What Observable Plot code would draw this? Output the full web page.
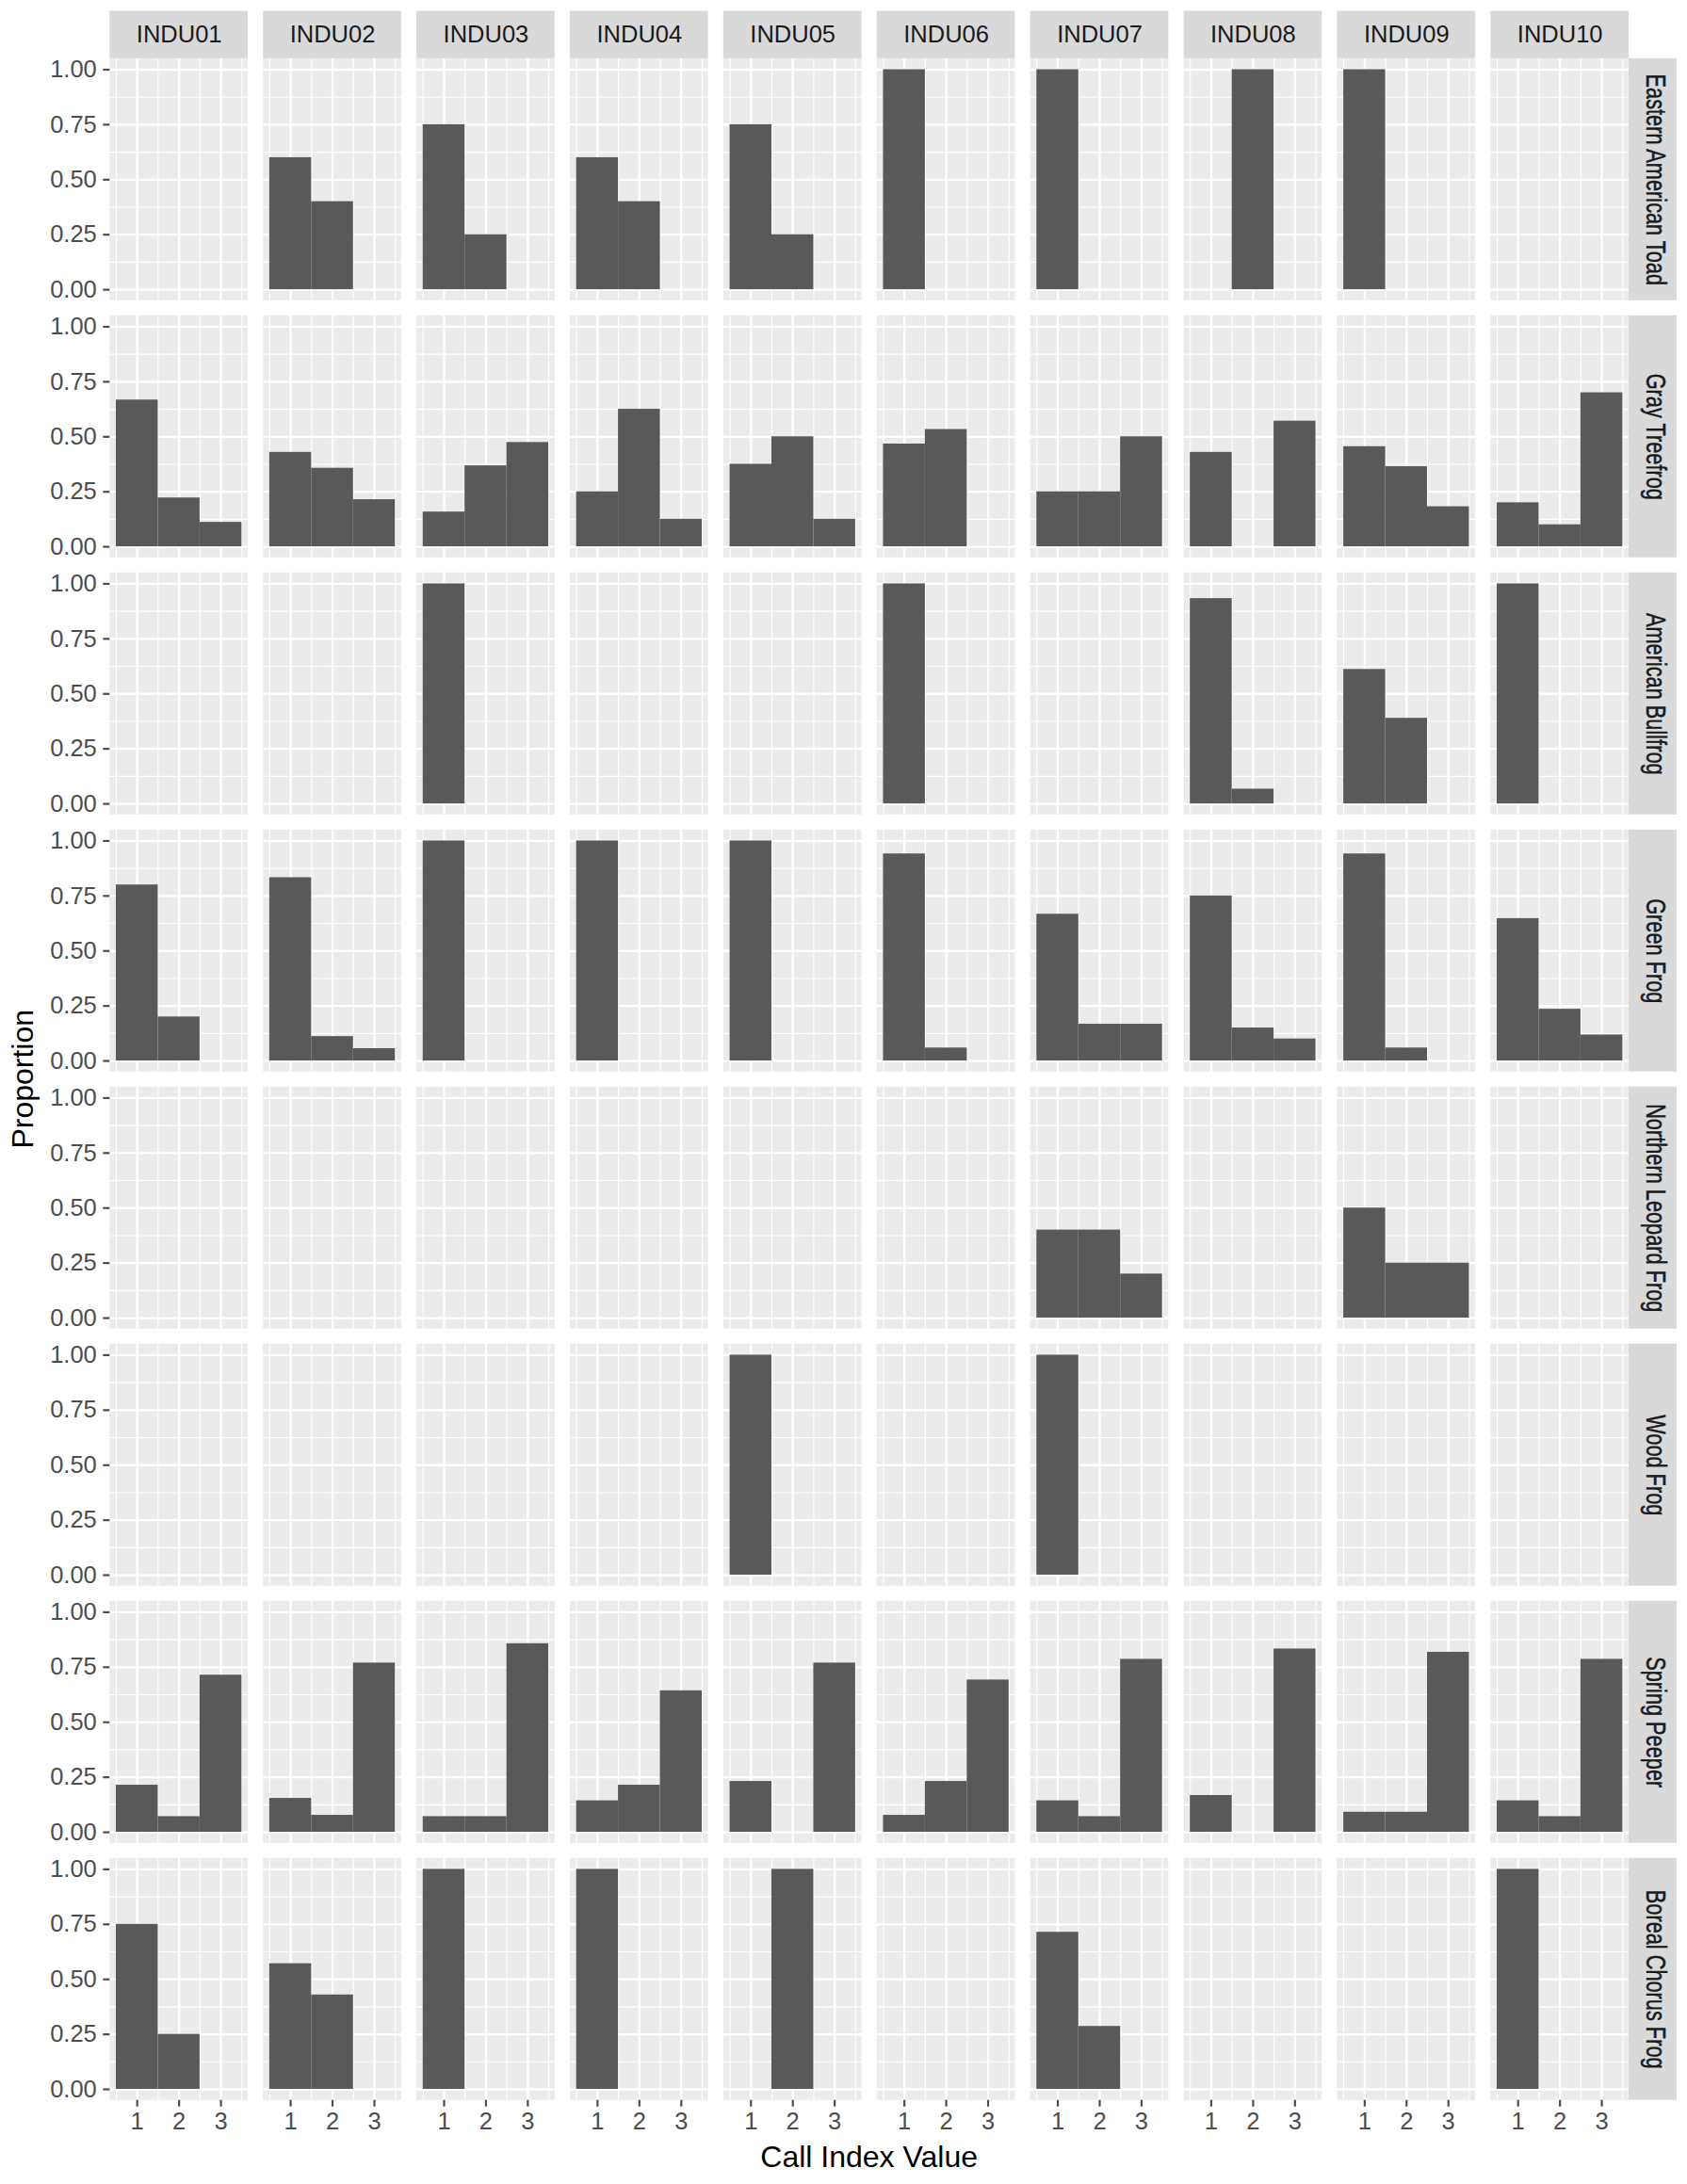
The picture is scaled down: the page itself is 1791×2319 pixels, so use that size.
<!DOCTYPE html>
<html>
<head>
<meta charset="utf-8">
<script src="https://cdn.jsdelivr.net/npm/d3@7"></script>
<script src="https://cdn.jsdelivr.net/npm/@observablehq/plot@0.6"></script>
<style>
  html, body { margin: 0; padding: 0; background: #ffffff; }
  #chart { width: 1791px; height: 2319px; }
</style>
</head>
<body>
<div id="chart"></div>
<script>
// ---- data ----
const sites = ["INDU01","INDU02","INDU03","INDU04","INDU05","INDU06","INDU07","INDU08","INDU09","INDU10"];
const species = ["Eastern American Toad","Gray Treefrog","American Bullfrog","Green Frog",
                 "Northern Leopard Frog","Wood Frog","Spring Peeper","Boreal Chorus Frog"];
const callValues = [1, 2, 3];
const yTicks = [0, 0.25, 0.5, 0.75, 1];
const xTickLabels = ["1", "2", "3"];
const xAxisTitle = "Call Index Value";
const yAxisTitle = "Proportion";

// proportions of call index values 1, 2, 3 per site (null = no records)
const easternAmericanToad = [null, [0.6,0.4,0], [0.75,0.25,0], [0.6,0.4,0], [0.75,0.25,0],
  [1,0,0], [1,0,0], [0,1,0], [1,0,0], null];
const grayTreefrog = [[0.667,0.222,0.111], [0.429,0.357,0.214], [0.158,0.368,0.474], [0.25,0.625,0.125],
  [0.375,0.5,0.125], [0.467,0.533,0], [0.25,0.25,0.5], [0.429,0,0.571], [0.455,0.364,0.182], [0.2,0.1,0.7]];
const americanBullfrog = [null, null, [1,0,0], null, null, [1,0,0], null, [0.933,0.067,0], [0.611,0.389,0], [1,0,0]];
const greenFrog = [[0.8,0.2,0], [0.833,0.111,0.056], [1,0,0], [1,0,0], [1,0,0], [0.941,0.059,0],
  [0.667,0.167,0.167], [0.75,0.15,0.1], [0.941,0.059,0], [0.647,0.235,0.118]];
const northernLeopardFrog = [null, null, null, null, null, null, [0.4,0.4,0.2], null, [0.5,0.25,0.25], null];
const woodFrog = [null, null, null, null, [1,0,0], null, [1,0,0], null, null, null];
const springPeeper = [[0.214,0.071,0.714], [0.154,0.077,0.769], [0.071,0.071,0.857], [0.143,0.214,0.643],
  [0.231,0,0.769], [0.077,0.231,0.692], [0.143,0.071,0.786], [0.167,0,0.833], [0.091,0.091,0.818], [0.143,0.071,0.786]];
const borealChorusFrog = [[0.75,0.25,0], [0.571,0.429,0], [1,0,0], [1,0,0], [0,1,0], null,
  [0.714,0.286,0], null, null, [1,0,0]];

const speciesValues = [easternAmericanToad, grayTreefrog, americanBullfrog, greenFrog,
  northernLeopardFrog, woodFrog, springPeeper, borealChorusFrog];

// ---- tables built from the arrays ----
const bars = [];
species.forEach((sp, i) => {
  speciesValues[i].forEach((triple, j) => {
    if (!triple) return;
    triple.forEach((p, k) => {
      if (p > 0) bars.push({species: sp, site: sites[j], call: callValues[k], p});
    });
  });
});
const cells = [];
species.forEach(sp => sites.forEach(s => cells.push({species: sp, site: s})));

// ---- layout ----
const W = 1791, H = 2319;
const mL = 116.3, mR = 62, mT = 61.8, mB = 89.3;
const stripH = 50.3, stripW = 51;
const xDomain = [0.35, 3.65];
const yDomain = [-0.05, 1.05];
const panelBg = "#EBEBEB", stripBg = "#D9D9D9", barFill = "#595959";
const fs = 25.5;

const chart = Plot.plot({
  width: W, height: H,
  marginLeft: mL, marginRight: mR, marginTop: mT, marginBottom: mB,
  style: {background: "#FFFFFF", fontFamily: "'Liberation Sans', Arial, sans-serif", fontSize: fs + "px", color: "#4D4D4D"},
  fx: {domain: sites, paddingInner: 0.0995, paddingOuter: 0, round: false, axis: null},
  fy: {domain: species, paddingInner: 0.0586, paddingOuter: 0, round: false, axis: null},
  x: {domain: xDomain, label: null},
  y: {domain: yDomain, label: null},
  marks: [
    // panel backgrounds
    Plot.rect(cells, {fx: "site", fy: "species", x1: () => xDomain[0], x2: () => xDomain[1],
      y1: () => yDomain[0], y2: () => yDomain[1], fill: panelBg}),
    // minor grid
    Plot.ruleX([0.5, 1.5, 2.5, 3.5], {stroke: "#FFFFFF", strokeWidth: 1.1}),
    Plot.ruleY([0.125, 0.375, 0.625, 0.875], {stroke: "#FFFFFF", strokeWidth: 1.1}),
    // major grid
    Plot.ruleX(callValues, {stroke: "#FFFFFF", strokeWidth: 2.3}),
    Plot.ruleY(yTicks, {stroke: "#FFFFFF", strokeWidth: 2.3}),
    // bars
    Plot.rect(bars, {fx: "site", fy: "species", x1: d => d.call - 0.5, x2: d => d.call + 0.5,
      y1: () => 0, y2: "p", fill: barFill, inset: 0}),
    // top strips
    Plot.rect(sites, {fx: d => d, fy: () => species[0], x1: () => xDomain[0], x2: () => xDomain[1],
      y1: () => yDomain[1], y2: () => yDomain[1], insetTop: -stripH, fill: stripBg}),
    Plot.text(sites, {fx: d => d, fy: () => species[0], x: () => (xDomain[0] + xDomain[1]) / 2,
      y: () => yDomain[1], dy: -stripH / 2, text: d => d, fill: "#1A1A1A", fontSize: fs}),
    // right strips
    Plot.rect(species, {fy: d => d, fx: () => sites[sites.length - 1], x1: () => xDomain[1], x2: () => xDomain[1],
      y1: () => yDomain[0], y2: () => yDomain[1], insetRight: -stripW, fill: stripBg}),
    Plot.text(species, {fy: d => d, fx: () => sites[sites.length - 1], x: () => xDomain[1],
      y: () => (yDomain[0] + yDomain[1]) / 2, dx: stripW / 2 + 2, rotate: 90, text: d => d,
      fill: "#1A1A1A", stroke: "#1A1A1A", strokeWidth: 0.5, fontSize: 29}),
    // axes
    Plot.axisY({ticks: yTicks, anchor: "left", tickFormat: d3.format(".2f"), tickSize: 7, tickPadding: 7,
      label: null, color: "#4D4D4D", strokeWidth: 2.2, fontSize: fs}),
    Plot.axisX({ticks: callValues, anchor: "bottom", tickFormat: (d, i) => xTickLabels[callValues.indexOf(d)],
      tickSize: 7, tickPadding: 6, label: null, color: "#4D4D4D", strokeWidth: 2.2, fontSize: fs})
  ]
});

// condense the right-hand strip labels as in the reference
const speciesSet = new Set(species);
chart.querySelectorAll("text").forEach(t => {
  const tr = t.getAttribute("transform") || "";
  if (speciesSet.has(t.textContent) && tr.includes("rotate")) {
    t.setAttribute("transform", tr + " scale(0.75,1)");
  }
});

// axis titles
const svg = d3.select(chart);
svg.append("text")
  .attr("x", (mL + (W - mR)) / 2)
  .attr("y", 2301)
  .attr("text-anchor", "middle")
  .attr("font-size", 32)
  .attr("fill", "#000000")
  .text(xAxisTitle);
svg.append("text")
  .attr("transform", `translate(35,${(mT + (H - mB)) / 2}) rotate(-90)`)
  .attr("text-anchor", "middle")
  .attr("font-size", 32)
  .attr("fill", "#000000")
  .text(yAxisTitle);

document.getElementById("chart").appendChild(chart);
</script>
</body>
</html>
